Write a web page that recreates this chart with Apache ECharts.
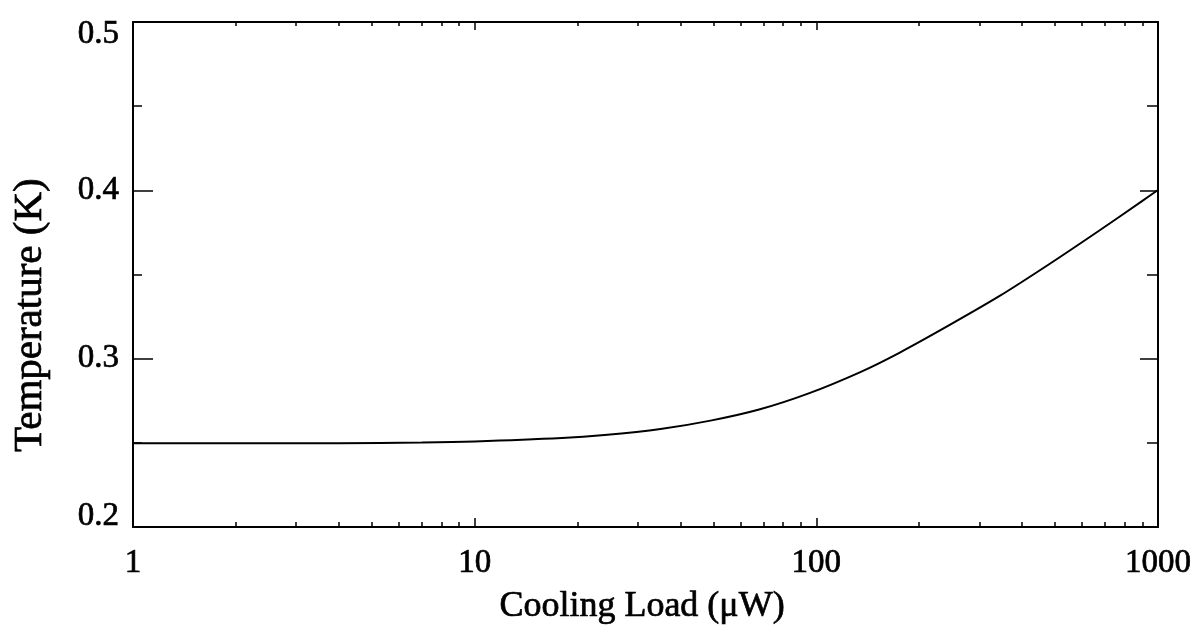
<!DOCTYPE html>
<html>
<head>
<meta charset="utf-8">
<script src="https://cdn.jsdelivr.net/npm/echarts@6/dist/echarts.min.js"></script>
<style>
html,body{margin:0;padding:0;background:#fff;}
#c{width:1203px;height:634px;}
</style>
</head>
<body>
<div id="c"></div>
<script>
var loadValues = [1, 2, 4, 7, 10, 18, 24, 35, 49, 68, 95, 134, 175, 245, 343, 480, 672, 898, 1000];
var tempValues = [0.2497, 0.2497, 0.2498, 0.2502, 0.2508, 0.2528, 0.2546, 0.2582, 0.2632, 0.2698, 0.2794, 0.2919, 0.3035, 0.3199, 0.3371, 0.3561, 0.3760, 0.3936, 0.4002];
var minorXTicks = [2,3,4,5,6,7,8,9,20,30,40,50,60,70,80,90,200,300,400,500,600,700,800,900];
var majorXTicks = [1, 10, 100, 1000];
var xTitle = 'Cooling Load (\u03bcW)';
var yTitle = 'Temperature (K)';

var FONT = '"Liberation Serif", "DejaVu Serif", serif';
var chart = echarts.init(document.getElementById('c'), null, {renderer: 'canvas'});

function logAxis(pos, opts) {
  var a = {
    type: 'log', logBase: 10, min: 1, max: 1000, position: pos,
    axisLine: {show: true, lineStyle: {color: '#000', width: 2}},
    axisTick: {show: true, inside: true, length: 9, lineStyle: {color: '#000', width: 1.5}},
    axisLabel: {show: false},
    splitLine: {show: false},
    minorTick: {show: false},
    minorSplitLine: {show: false}
  };
  return Object.assign(a, opts || {});
}

var data = loadValues.map(function (x, i) { return [x, tempValues[i]]; });
var labelStyle = {color: '#000', fontFamily: FONT, fontSize: 33, textBorderColor: '#000', textBorderWidth: 0.7};

var option = {
  backgroundColor: '#fff',
  animation: false,
  grid: {left: 133, right: 45, top: 22, bottom: 107, containLabel: false},
  xAxis: [
    logAxis('bottom', {
      axisTick: {show: true, inside: true, length: 9, customValues: majorXTicks, lineStyle: {color: '#000', width: 1.5}},
      axisLabel: Object.assign({show: true, customValues: majorXTicks, margin: 20,
        formatter: function (v) { return String(Math.round(v)); }}, labelStyle)
    }),
    logAxis('bottom', {
      axisLine: {show: false},
      axisTick: {show: true, inside: true, length: 5, customValues: minorXTicks, lineStyle: {color: '#000', width: 1.5}}
    }),
    logAxis('top', {
      axisTick: {show: true, inside: true, length: 8, customValues: majorXTicks, lineStyle: {color: '#000', width: 1.5}}
    }),
    logAxis('top', {
      axisLine: {show: false},
      axisTick: {show: true, inside: true, length: 4, customValues: minorXTicks, lineStyle: {color: '#000', width: 1.5}}
    })
  ],
  yAxis: [
    {
      type: 'value', min: 0.2, max: 0.5, interval: 0.1, position: 'left',
      axisLine: {show: true, lineStyle: {color: '#000', width: 2}},
      axisTick: {show: true, inside: true, length: 20, lineStyle: {color: '#000', width: 1.5}},
      minorTick: {show: true, splitNumber: 2, length: 9, lineStyle: {color: '#000', width: 1.5}},
      splitLine: {show: false},
      axisLabel: Object.assign({
        show: true, margin: 14,
        formatter: function (v) {
          var s = v.toFixed(1);
          if (Math.abs(v - 0.5) < 1e-9) return '{top|' + s + '}';
          if (Math.abs(v - 0.2) < 1e-9) return '{bot|' + s + '}';
          return s;
        },
        rich: {
          top: Object.assign({padding: [24, 0, 0, 0]}, labelStyle),
          bot: Object.assign({padding: [0, 0, 22, 0]}, labelStyle)
        }
      }, labelStyle)
    },
    {
      type: 'value', min: 0.2, max: 0.5, interval: 0.1, position: 'right',
      axisLine: {show: true, lineStyle: {color: '#000', width: 2}},
      axisTick: {show: true, inside: true, length: 18, lineStyle: {color: '#000', width: 1.5}},
      minorTick: {show: true, splitNumber: 2, length: 11, lineStyle: {color: '#000', width: 1.5}},
      splitLine: {show: false},
      axisLabel: {show: false}
    }
  ],
  series: [{
    type: 'line',
    xAxisIndex: 0, yAxisIndex: 0,
    data: data,
    smooth: 0.3,
    showSymbol: false,
    symbol: 'none',
    lineStyle: {color: '#000', width: 2}
  }],
  graphic: [
    {type: 'text', x: 642, y: 607,
      style: {text: xTitle, fill: '#000', font: '36px ' + FONT, textAlign: 'center', textVerticalAlign: 'middle', stroke: '#000', lineWidth: 0.7}},
    {type: 'text', rotation: Math.PI / 2, x: 30, y: 452,
      style: {text: yTitle, fill: '#000', font: '41px ' + FONT, textAlign: 'left', textVerticalAlign: 'middle', stroke: '#000', lineWidth: 0.7}}
  ]
};
chart.setOption(option);
</script>
</body>
</html>
